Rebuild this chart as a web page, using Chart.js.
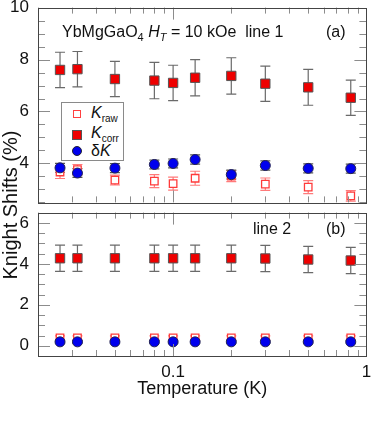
<!DOCTYPE html>
<html>
<head>
<meta charset="utf-8">
<script src="https://cdn.jsdelivr.net/npm/chart.js@4.4.1/dist/chart.umd.min.js"></script>
<style>
  body{margin:0;background:#fff;font-family:"Liberation Sans",Arial,sans-serif;color:#111}
  #wrap{position:relative;width:374px;height:447px;overflow:hidden}
  canvas{position:absolute;left:0}
  .txt{position:absolute;font-size:16px;line-height:18px;white-space:nowrap}
  .txt sub{font-size:11px;vertical-align:-4px;line-height:0}
  #legend{position:absolute;left:61px;top:102px;width:61px;height:57px;border:1px solid #8a8a8a;background:#fff}
  #legend .mk{position:absolute;box-sizing:border-box}
  #legend .lab{position:absolute;left:29px;font-size:16px;line-height:16px;height:16px;white-space:nowrap}
  #legend .lab sub{font-size:10px;vertical-align:-4px;line-height:0}
  #ytitle{position:absolute;left:-90px;top:194px;width:200px;height:22px;line-height:22px;text-align:center;font-size:20px;transform:rotate(-90deg)}
</style>
</head>
<body>
<div id="wrap">
  <canvas id="chartTop" width="374" height="210" style="top:0"></canvas>
  <canvas id="chartBot" width="374" height="242" style="top:205px"></canvas>

  <div class="txt" style="left:62px;top:23px">YbMgGaO<sub>4</sub> <i>H<sub>T</sub></i> = 10 kOe&nbsp; line 1</div>
  <div class="txt" style="left:326px;top:23px">(a)</div>
  <div class="txt" style="left:253px;top:220px">line 2</div>
  <div class="txt" style="left:326px;top:220px">(b)</div>

  <div id="legend">
    <span class="mk" style="left:11px;top:7px;width:8px;height:8px;border:1.3px solid #ff4040"></span>
    <span class="lab" style="top:2px"><i>K</i><sub>raw</sub></span>
    <span class="mk" style="left:10px;top:27px;width:10px;height:10px;background:#ee0000;border:1px solid #555"></span>
    <span class="lab" style="top:22px"><i>K</i><sub>corr</sub></span>
    <span class="mk" style="left:10px;top:43px;width:10px;height:10px;border-radius:50%;background:#0000ee;border:1px solid #223"></span>
    <span class="lab" style="top:40px">δ<i>K</i></span>
  </div>

  <div id="ytitle">Knight Shifts (%)</div>
</div>

<script>
// temperatures (K)
const temps = [0.026, 0.032, 0.05, 0.08, 0.1, 0.13, 0.2, 0.3, 0.5, 0.83];

// line 1 (panel a)
const kraw1     = [3.67, 3.76, 3.36, 3.32, 3.22, 3.43, 3.51, 3.20, 3.09, 2.75];
const kraw1Err  = [0.25, 0.20, 0.19, 0.25, 0.25, 0.27, 0.21, 0.24, 0.25, 0.20];
const kcorr1    = [7.60, 7.63, 7.25, 7.19, 7.10, 7.30, 7.37, 7.07, 6.93, 6.53];
const kcorr1Err = [0.68, 0.68, 0.68, 0.70, 0.68, 0.70, 0.70, 0.68, 0.69, 0.68];
const dk1       = [3.83, 3.63, 3.82, 3.96, 4.00, 4.15, 3.57, 3.92, 3.81, 3.80];
const dk1Err    = [0.17, 0.17, 0.17, 0.17, 0.17, 0.18, 0.17, 0.18, 0.17, 0.17];

// line 2 (panel b)
const kraw2     = [0.38, 0.38, 0.38, 0.38, 0.38, 0.38, 0.38, 0.38, 0.38, 0.38];
const kraw2Err  = [0.10, 0.10, 0.10, 0.10, 0.10, 0.10, 0.10, 0.10, 0.10, 0.10];
const kcorr2    = [4.27, 4.27, 4.27, 4.27, 4.27, 4.27, 4.27, 4.26, 4.21, 4.16];
const kcorr2Err = [0.64, 0.64, 0.64, 0.64, 0.64, 0.64, 0.64, 0.64, 0.64, 0.64];
const dk2       = [0.19, 0.19, 0.19, 0.19, 0.19, 0.19, 0.19, 0.19, 0.19, 0.19];
const dk2Err    = [0.06, 0.06, 0.06, 0.06, 0.06, 0.06, 0.06, 0.06, 0.06, 0.06];

// axis ticks
const yTicksTop = [4, 6, 8, 10];
const yTicksBot = [0, 2, 4, 6];
const xTickLabels = [0.1, 1];

const FONT = '"Liberation Sans", Arial, sans-serif';

function pts(vals){ return vals.map((v,i)=>({x:temps[i], y:v})); }

// vertical error bars with caps, drawn under the markers
const errorBars = {
  id:'errorBars',
  beforeDatasetsDraw(chart){
    const {ctx, scales:{x,y}} = chart;
    chart.data.datasets.forEach(ds=>{
      if(!ds.errors) return;
      ctx.save();
      ctx.strokeStyle = ds.errorColor;
      ctx.lineWidth = 1.2;
      ds.data.forEach((p,i)=>{
        const px = x.getPixelForValue(p.x);
        const y1 = y.getPixelForValue(p.y + ds.errors[i]);
        const y2 = y.getPixelForValue(p.y - ds.errors[i]);
        ctx.beginPath();
        ctx.moveTo(px, y1); ctx.lineTo(px, y2);
        ctx.moveTo(px-5, y1); ctx.lineTo(px+5, y1);
        ctx.moveTo(px-5, y2); ctx.lineTo(px+5, y2);
        ctx.stroke();
      });
      ctx.restore();
    });
  }
};

// frame with inward ticks on all four sides
const frameTicks = {
  id:'frameTicks',
  afterDraw(chart){
    const {ctx, chartArea:a, scales:{x,y}} = chart;
    ctx.save();
    ctx.strokeStyle = '#8c8c8c';
    ctx.lineWidth = 1;
    ctx.beginPath();
    for(const d of [0.01, 0.1]){
      for(let m=1;m<=9;m++){
        const v = m*d;
        if(v < x.min-1e-9 || v > x.max+1e-9) continue;
        const px = Math.round(x.getPixelForValue(v))+0.5;
        const len = m===1 ? 12 : 6;
        ctx.moveTo(px, a.bottom); ctx.lineTo(px, a.bottom-len);
        ctx.moveTo(px, a.top); ctx.lineTo(px, a.top+len);
      }
    }
    for(let v=Math.ceil(y.min*2)/2; v<=y.max+1e-9; v+=0.5){
      const py = Math.round(y.getPixelForValue(v))+0.5;
      const len = Math.abs(v%2)<1e-9 ? 12 : 7;
      ctx.moveTo(a.left, py); ctx.lineTo(a.left+len, py);
      ctx.moveTo(a.right, py); ctx.lineTo(a.right-len, py);
    }
    ctx.stroke();
    ctx.strokeStyle = '#444';
    ctx.strokeRect(Math.round(a.left)+0.5, Math.round(a.top)+0.5, Math.round(a.right-a.left), Math.round(a.bottom-a.top));
    ctx.restore();
  }
};

function noPad(s){ s.paddingTop = 0; s.paddingBottom = 0; s.paddingLeft = 0; s.paddingRight = 0; }

function datasets(kraw, krawErr, kcorr, kcorrErr, dk, dkErr){
  return [
    {label:'Kraw', data:pts(kraw), errors:krawErr, errorColor:'#ff7a7a', order:2,
     pointStyle:'rect', pointRadius:5.3, backgroundColor:'#ffffff', borderColor:'#ff3a3a', borderWidth:1.3},
    {label:'Kcorr', data:pts(kcorr), errors:kcorrErr, errorColor:'#6a6a6a', order:1,
     pointStyle:'rect', pointRadius:6.6, backgroundColor:'#ee0000', borderColor:'#555', borderWidth:1},
    {label:'dK', data:pts(dk), errors:dkErr, errorColor:'#555', order:0,
     pointStyle:'circle', pointRadius:5, backgroundColor:'#0000ee', borderColor:'#222255', borderWidth:1}
  ];
}

function yAxis(min, max, ticks){
  return {
    min, max,
    grid:{display:false, drawTicks:false},
    border:{display:false},
    afterFit(s){ s.width = 38; noPad(s); },
    afterBuildTicks(s){ s.ticks = ticks.map(v=>({value:v})); },
    ticks:{padding:9, color:'#111', font:{family:FONT, size:17}}
  };
}

new Chart(document.getElementById('chartTop'),{
  type:'scatter',
  data:{datasets:datasets(kraw1, kraw1Err, kcorr1, kcorr1Err, dk1, dk1Err)},
  options:{
    responsive:false, animation:false,
    layout:{padding:{top:7, bottom:5, left:0, right:5}},
    plugins:{legend:{display:false}, tooltip:{enabled:false}},
    scales:{
      x:{type:'logarithmic', min:0.02, max:1, display:false, afterFit:noPad},
      y:yAxis(2.5, 10, yTicksTop)
    }
  },
  plugins:[errorBars, frameTicks]
});

new Chart(document.getElementById('chartBot'),{
  type:'scatter',
  data:{datasets:datasets(kraw2, kraw2Err, kcorr2, kcorr2Err, dk2, dk2Err)},
  options:{
    responsive:false, animation:false,
    layout:{padding:{top:5, bottom:47, left:0, right:5}},
    plugins:{legend:{display:false}, tooltip:{enabled:false}},
    scales:{
      x:{
        type:'logarithmic', min:0.02, max:1,
        grid:{display:false, drawTicks:false},
        border:{display:false},
        afterFit(s){ s.height = 44; noPad(s); },
        afterBuildTicks(s){ s.ticks = xTickLabels.map(v=>({value:v})); },
        ticks:{padding:6, autoSkip:false, maxRotation:0, color:'#111', font:{family:FONT, size:17},
               callback:v=>String(v)},
        title:{display:true, text:'Temperature (K)', color:'#111', padding:0, font:{family:FONT, size:18}}
      },
      y:yAxis(-0.5, 6.5, yTicksBot)
    }
  },
  plugins:[errorBars, frameTicks]
});
</script>
</body>
</html>
